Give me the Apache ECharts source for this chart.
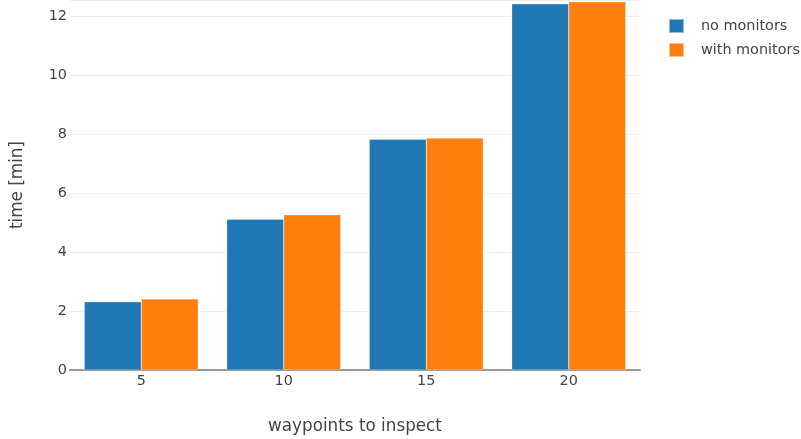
<!DOCTYPE html>
<html><head><meta charset="utf-8">
<script src="https://cdn.jsdelivr.net/npm/echarts@6/dist/echarts.min.js"></script>
<style>html,body{margin:0;padding:0;background:#fff;overflow:hidden}#c{width:801px;height:439px}</style>
</head><body><div id="c"></div>
<script>
const categories = ['5', '10', '15', '20'];
const noMonitors = [2.31, 5.11, 7.82, 12.41];
const withMonitors = [2.41, 5.26, 7.86, 12.48];
const yTicks = [0, 2, 4, 6, 8, 10, 12];

const chart = echarts.init(document.getElementById('c'), null, {renderer: 'canvas', width: 801, height: 439});
const font = '"DejaVu Sans", Verdana, sans-serif';
chart.setOption({
  animation: false,
  textStyle: {fontFamily: font},
  grid: {left: 70, width: 570, top: 0, height: 370, containLabel: false, outerBoundsMode: 'none'},
  legend: {
    data: ['no monitors', 'with monitors'],
    orient: 'vertical', left: 668, top: 18, padding: 0,
    icon: 'rect', itemWidth: 15, itemHeight: 14, itemGap: 8,
    textStyle: {color: '#444', fontSize: 14.4, fontFamily: font, padding: [0, 0, 0, 12]}
  },
  xAxis: {
    type: 'category', data: categories,
    name: 'waypoints to inspect', nameLocation: 'middle', nameGap: 48,
    nameTextStyle: {color: '#444', fontSize: 16.8, fontFamily: font},
    axisLine: {show: true, lineStyle: {color: '#999', width: 2}},
    axisTick: {show: false},
    axisLabel: {color: '#444', fontSize: 14.4, fontFamily: font, margin: 4}
  },
  yAxis: {
    type: 'value', min: 0, max: 12.54, interval: 2,
    name: 'time [min]', nameLocation: 'middle', nameGap: 44,
    nameTextStyle: {color: '#444', fontSize: 16.8, fontFamily: font},
    axisLine: {show: false}, axisTick: {show: false},
    splitLine: {lineStyle: {color: '#eee', width: 1}},
    axisLabel: {color: '#444', fontSize: 14.4, fontFamily: font, margin: 3,
      showMaxLabel: false,
      formatter: v => yTicks.includes(v) ? String(v) : ''}
  },
  series: [
    {name: 'no monitors', type: 'bar', data: noMonitors, barGap: '0%', barCategoryGap: '20%',
     itemStyle: {color: '#1f77b4', borderColor: 'rgba(255,255,255,0.5)', borderWidth: 0.5}},
    {name: 'with monitors', type: 'bar', data: withMonitors, barGap: '0%', barCategoryGap: '20%',
     itemStyle: {color: '#ff7f0e', borderColor: 'rgba(255,255,255,0.5)', borderWidth: 0.5}}
  ]
});
</script></body></html>
